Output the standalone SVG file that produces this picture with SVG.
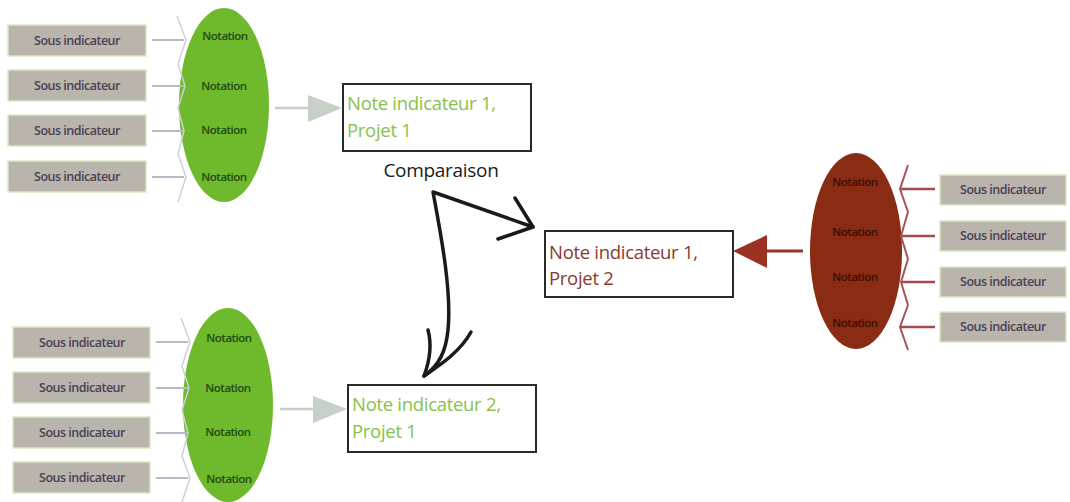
<svg xmlns="http://www.w3.org/2000/svg" width="1070" height="502" viewBox="0 0 1070 502">
  <style>
    .sub rect { fill: #b9b5ad; stroke: #dbe8c4; stroke-width: 1.5; }
    .sub text { font-family: "Open Sans", "Liberation Sans", sans-serif; font-size: 12.5px; font-weight: 600; fill: #4a4055; text-anchor: middle; letter-spacing: -0.5px; }
    .nota { font-family: "Open Sans", "Liberation Sans", sans-serif; font-size: 11.5px; font-weight: 600; text-anchor: middle; letter-spacing: -0.5px; }
    .nota-g { fill: #1d4a12; }
    .nota-r { fill: #3a0d05; }
    .note rect { fill: #ffffff; stroke: #2a2a2a; stroke-width: 2; }
    .note text { font-family: "Open Sans", "Liberation Sans", sans-serif; font-size: 18.5px; letter-spacing: -0.3px; }
    .green { fill: #86c24a; }
    .brown { fill: #8a3a2c; }
    .feed { stroke: #b4bcc8; stroke-width: 2; fill: none; }
    .chev { stroke: #cfcfd8; stroke-width: 1.5; fill: none; }
    .feed-r { stroke: #a24a4e; stroke-width: 2.5; fill: none; }
    .chev-r { stroke: #a85258; stroke-width: 2; fill: none; }
    .big-g { fill: #c6d0c6; }
    .line-g { stroke: #c6d0c6; stroke-width: 2.5; }
    .big-r { fill: #9a3224; }
    .line-r { stroke: #9a3224; stroke-width: 3; }
    .hand { stroke: #1a1a1a; stroke-width: 3.5; fill: none; stroke-linecap: round; stroke-linejoin: round; }
  </style>

  <!-- Project 1, indicator 1: sub-indicators -->
  <g id="p1i1-subs" class="sub">
    <rect x="8" y="25" width="138" height="31"/><text x="77" y="45">Sous indicateur</text>
    <rect x="8" y="70" width="138" height="31"/><text x="77" y="90">Sous indicateur</text>
    <rect x="8" y="115" width="138" height="31"/><text x="77" y="135">Sous indicateur</text>
    <rect x="8" y="161" width="138" height="31"/><text x="77" y="181">Sous indicateur</text>
  </g>
  <g id="p1i1-scores">
    <ellipse cx="224" cy="105" rx="45" ry="97" fill="#6fb92c"/>
    <text class="nota nota-g" x="225" y="40">Notation</text>
    <text class="nota nota-g" x="224" y="90">Notation</text>
    <text class="nota nota-g" x="224" y="134">Notation</text>
    <text class="nota nota-g" x="224" y="181">Notation</text>
  </g>
  <g id="p1i1-note" class="note">
    <rect x="343" y="84" width="188" height="67"/>
    <text class="green" x="347" y="110">Note indicateur 1,</text>
    <text class="green" x="347" y="137">Projet 1</text>
  </g>

  <!-- Project 1, indicator 2 -->
  <g id="p1i2-subs" class="sub">
    <rect x="13" y="327" width="137" height="31"/><text x="82" y="347">Sous indicateur</text>
    <rect x="13" y="372" width="137" height="31"/><text x="82" y="392">Sous indicateur</text>
    <rect x="13" y="417" width="137" height="31"/><text x="82" y="437">Sous indicateur</text>
    <rect x="13" y="462" width="137" height="31"/><text x="82" y="482">Sous indicateur</text>
  </g>
  <g id="p1i2-scores">
    <ellipse cx="228" cy="405" rx="45" ry="97" fill="#6fb92c"/>
    <text class="nota nota-g" x="229" y="342">Notation</text>
    <text class="nota nota-g" x="228" y="392">Notation</text>
    <text class="nota nota-g" x="228" y="436">Notation</text>
    <text class="nota nota-g" x="229" y="483">Notation</text>
  </g>
  <g id="p1i2-note" class="note">
    <rect x="348" y="385" width="188" height="67"/>
    <text class="green" x="352" y="411">Note indicateur 2,</text>
    <text class="green" x="352" y="438">Projet 1</text>
  </g>

  <!-- Project 2, indicator 1 -->
  <g id="p2i1-subs" class="sub">
    <rect x="940" y="175" width="126" height="30"/><text x="1003" y="194">Sous indicateur</text>
    <rect x="940" y="221" width="126" height="30"/><text x="1003" y="240">Sous indicateur</text>
    <rect x="940" y="267" width="126" height="30"/><text x="1003" y="286">Sous indicateur</text>
    <rect x="940" y="312" width="126" height="30"/><text x="1003" y="331">Sous indicateur</text>
  </g>
  <g id="p2i1-scores">
    <ellipse cx="856" cy="251" rx="46" ry="98" fill="#8a2b14"/>
    <text class="nota nota-r" x="855" y="186">Notation</text>
    <text class="nota nota-r" x="855" y="236">Notation</text>
    <text class="nota nota-r" x="855" y="281">Notation</text>
    <text class="nota nota-r" x="855" y="327">Notation</text>
  </g>
  <g id="p2i1-note" class="note">
    <rect x="545" y="231" width="188" height="66"/>
    <text class="brown" x="549" y="259">Note indicateur 1,</text>
    <text class="brown" x="549" y="285">Projet 2</text>
  </g>

  <!-- Comparison label -->
  <g id="comparaison">
    <text x="441" y="177" font-family="'Open Sans', 'Liberation Sans', sans-serif" font-size="19" fill="#1a1a1a" text-anchor="middle" letter-spacing="-0.3">Comparaison</text>
  </g>

  <g id="connectors">
    <!-- sub-indicator feeds, project 1 indicator 1 -->
    <g>
      <line class="feed" x1="152" y1="40" x2="184" y2="40"/>
      <line class="feed" x1="152" y1="86" x2="184" y2="86"/>
      <line class="feed" x1="152" y1="131" x2="184" y2="131"/>
      <line class="feed" x1="152" y1="177" x2="184" y2="177"/>
      <polyline class="chev" points="177,16 186,40 178,64"/>
      <polyline class="chev" points="178,64 185,86 178,108"/>
      <polyline class="chev" points="178,108 184,131 178,154"/>
      <polyline class="chev" points="178,154 186,177 178,202"/>
    </g>
    <!-- sub-indicator feeds, project 1 indicator 2 -->
    <g>
      <line class="feed" x1="156" y1="342" x2="188" y2="342"/>
      <line class="feed" x1="156" y1="388" x2="188" y2="388"/>
      <line class="feed" x1="156" y1="433" x2="188" y2="433"/>
      <line class="feed" x1="156" y1="478" x2="188" y2="478"/>
      <polyline class="chev" points="181,318 190,342 182,366"/>
      <polyline class="chev" points="182,366 189,388 182,410"/>
      <polyline class="chev" points="182,410 188,433 182,456"/>
      <polyline class="chev" points="182,456 190,478 182,502"/>
    </g>
    <!-- sub-indicator feeds, project 2 indicator 1 -->
    <g>
      <line class="feed-r" x1="901" y1="189" x2="935" y2="189"/>
      <line class="feed-r" x1="901" y1="236" x2="935" y2="236"/>
      <line class="feed-r" x1="901" y1="282" x2="935" y2="282"/>
      <line class="feed-r" x1="901" y1="327" x2="935" y2="327"/>
      <polyline class="chev-r" points="908,165 900,189 908,212"/>
      <polyline class="chev-r" points="908,212 901,236 908,259"/>
      <polyline class="chev-r" points="908,259 901,282 908,305"/>
      <polyline class="chev-r" points="908,305 900,327 908,350"/>
    </g>
    <!-- scores to indicator notes -->
    <line class="line-g" x1="275" y1="108" x2="312" y2="108"/>
    <polygon class="big-g" points="308,95 342,108 308,122"/>
    <line class="line-g" x1="280" y1="409" x2="317" y2="409"/>
    <polygon class="big-g" points="313,396 347,409 313,423"/>
    <line class="line-r" x1="803" y1="251" x2="764" y2="251"/>
    <polygon class="big-r" points="767,235 733,251 767,268"/>
    <!-- hand-drawn comparison arrows -->
    <path class="hand" d="M533,227 L433,192 C440,230 452,290 448,330 C446,350 440,365 424,376"/>
    <path class="hand" d="M515,198 L533,227 L498,239"/>
    <path class="hand" d="M428,330 C432,345 430,360 424,376 C440,365 460,352 471,332"/>
  </g>
</svg>
